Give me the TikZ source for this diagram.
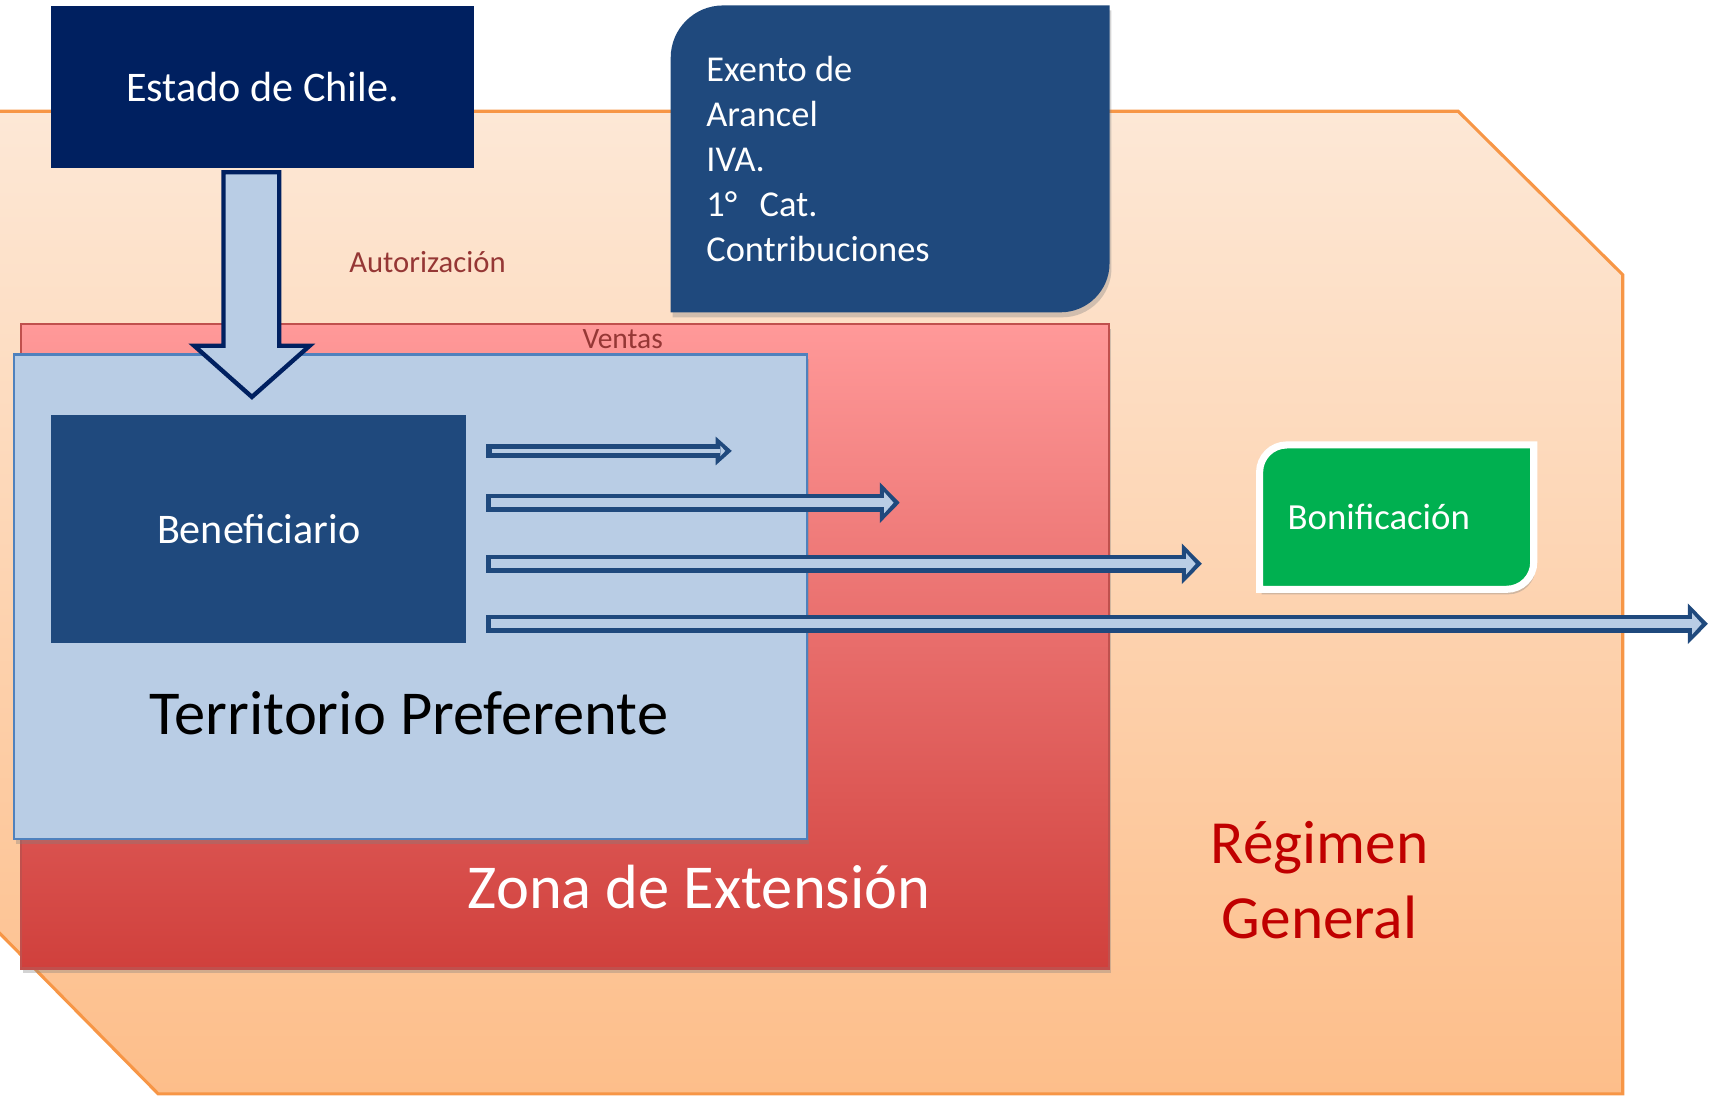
\documentclass[tikz,border=0pt]{standalone}
\usepackage{fontspec}
\setmainfont{Carlito}
\usetikzlibrary{arrows.meta, positioning, shadows}

\definecolor{chileNavy}{RGB}{0,32,96}
\definecolor{benBlue}{RGB}{31,73,125}
\definecolor{paleBlue}{RGB}{185,205,229}
\definecolor{terrLine}{RGB}{79,129,189}
\definecolor{zoneTop}{RGB}{255,153,153}
\definecolor{zoneBot}{RGB}{208,64,60}
\definecolor{zoneLine}{RGB}{192,80,77}
\definecolor{peachTop}{RGB}{253,232,214}
\definecolor{peachBot}{RGB}{253,190,138}
\definecolor{peachLine}{RGB}{247,150,70}
\definecolor{wine}{RGB}{149,55,53}
\definecolor{regRed}{RGB}{192,0,0}
\definecolor{bonGreen}{RGB}{0,176,80}

\begin{document}
\begin{tikzpicture}[x=0.1mm, y=-0.1mm,
    box/.style={inner sep=0pt, anchor=north west},
    softshadow/.style={drop shadow={shadow xshift=0.5pt, shadow yshift=-1.3pt, opacity=0.35}},
    flowarrow/.style={line width=4.8pt, draw=benBlue, -{Triangle[length=5.2pt,width=10.6pt,line width=0pt]},
      postaction={draw=paleBlue, line width=2.3pt, shorten <=1.2pt, shorten >=1.6pt, -{Triangle[length=2.5pt,width=5.6pt,line width=0pt]}}},
    flowthin/.style={line width=3.6pt, draw=benBlue, -{Triangle[length=4.2pt,width=7.5pt,line width=0pt]},
      postaction={draw=paleBlue, line width=0.9pt, shorten <=1.4pt, shorten >=1.7pt, -{Triangle[length=1.3pt,width=2.8pt,line width=0pt]}}}]
    \useasboundingbox (0,0) rectangle (1568,1005);

    % regimen general
    \draw[peachLine, line width=0.8pt, top color=peachTop, bottom color=peachBot] (-5,102) -- (1337,102) -- (1488,252) -- (1488,1003) -- (145,1003) -- (-5,851) -- cycle;

    % zona de extension
    \node[box, minimum width=99.8mm, minimum height=59.1mm, draw=zoneLine, line width=0.6pt, top color=zoneTop, bottom color=zoneBot, softshadow] (zona) at (18,296) {};
    \node[wine, font=\fontsize{7.7}{9}\selectfont] (ventas) at (571,311) {Ventas};
    \node[white, font=\fontsize{16.3}{19}\selectfont] (zonatext) at (641,813) {Zona de Extensión};

    % territorio preferente
    \node[box, minimum width=72.7mm, minimum height=44.4mm, draw=terrLine, line width=0.6pt, fill=paleBlue, softshadow] (terr) at (12,324) {};
    \node[font=\fontsize{16.3}{19}\selectfont] (terrtext) at (375,654) {Territorio Preferente};

    \node[box, minimum width=38.1mm, minimum height=20.9mm, fill=benBlue, text=white, font=\fontsize{11}{13}\selectfont] (benef) at (46,380) {Beneficiario};

    % ventas
    \coordinate (s1) at (446,413.5);
    \coordinate (e1) at (671,413.5);
    \coordinate (s2) at (446,461);
    \coordinate (e2) at (825,461);
    \coordinate (s3) at (446,517);
    \coordinate (e3) at (1102,517);
    \coordinate (s4) at (446,572);
    \coordinate (e4) at (1566,572);
    \draw[flowthin] (s1) -- (e1);
    \draw[flowarrow] (s2) -- (e2);
    \draw[flowarrow] (s3) -- (e3);
    \draw[flowarrow] (s4) -- (e4);

    % autorizacion
    \draw[chileNavy, line width=0.4mm, fill=paleBlue, line join=miter] (205,158) -- (256,158) -- (256,317) -- (284,317) -- (231,364) -- (178,317) -- (205,317) -- cycle;
    \node[box, minimum width=38.8mm, minimum height=14.8mm, fill=chileNavy, text=white, font=\fontsize{11}{13}\selectfont] (estado) at (46,5) {Estado de Chile.};
    \node[wine, font=\fontsize{8}{10}\selectfont] (autoriz) at (392,240) {Autorización};

    % exenciones
    \path node[box, minimum width=40.1mm, minimum height=28mm] (exento) at (615,5) {};
    \fill[benBlue, softshadow] (exento.south west) -- (exento.west) [rounded corners=4.8mm] -- (exento.north west) -- (exento.north) [sharp corners] -- (exento.north east) -- (exento.east) [rounded corners=4.5mm] -- (exento.south east) -- (exento.south) [sharp corners] -- cycle;
    \node[text=white, align=left, anchor=west, inner sep=0pt, font=\fontsize{9.5}{11.7}\selectfont] (exentotext) at ([xshift=3.2mm]exento.west) {Exento de\\Arancel\\IVA.\\1°~~\,Cat.\\Contribuciones};

    % bonificacion
    \path node[box, minimum width=25mm, minimum height=13.1mm] (bonif) at (1155,408) {};
    \draw[white, line width=0.65mm, fill=bonGreen, softshadow] (bonif.south west) -- (bonif.west) [rounded corners=2.5mm] -- (bonif.north west) -- (bonif.north) [sharp corners] -- (bonif.north east) -- (bonif.east) [rounded corners=2.5mm] -- (bonif.south east) -- (bonif.south) [sharp corners] -- cycle;
    \node[text=white, anchor=west, inner sep=0pt, font=\fontsize{9.6}{11}\selectfont] (boniftext) at ([xshift=2.5mm]bonif.west) {Bonificación};

    \node[regRed, align=center, font=\fontsize{16}{19.6}\selectfont] (regimen) at (1210,807) {Régimen\\General};
\end{tikzpicture}
\end{document}
